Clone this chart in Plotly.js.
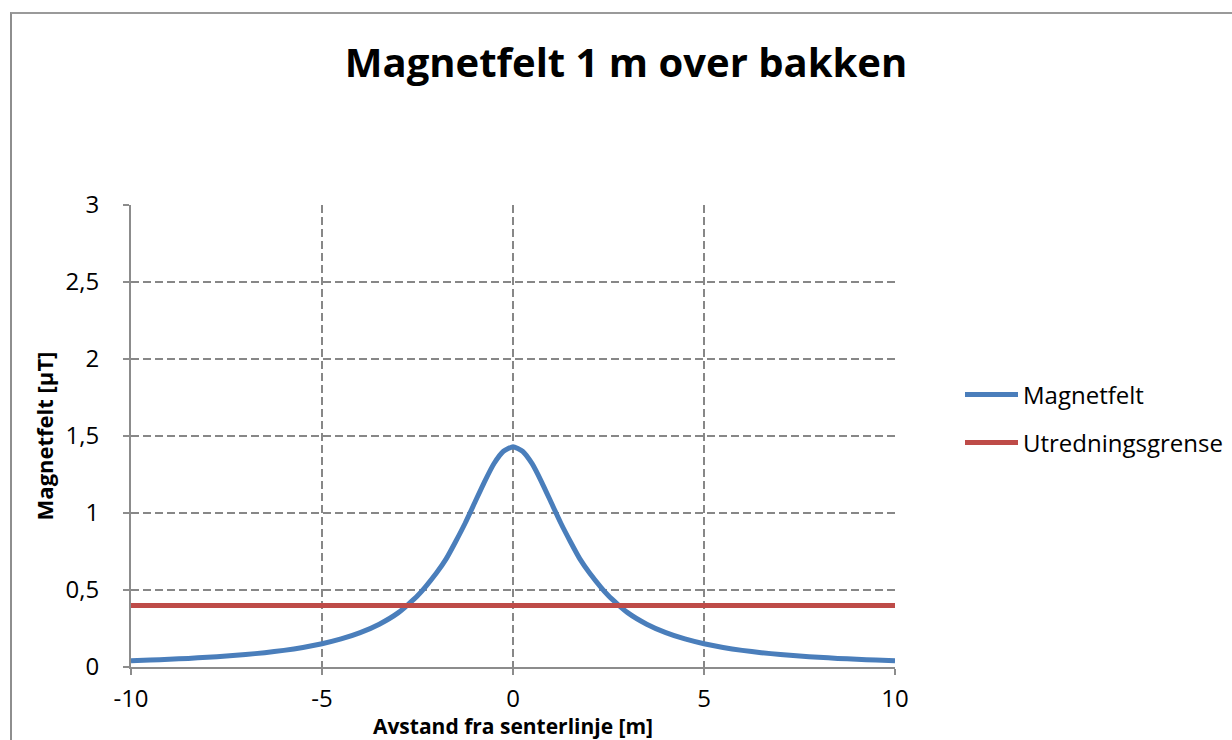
<!DOCTYPE html>
<html>
<head>
<meta charset="utf-8">
<script src="https://cdn.plot.ly/plotly-3.0.1.min.js"></script>
<style>
  html, body { margin: 0; padding: 0; background: #fff; overflow: hidden; }
  #chart { position: absolute; left: 0; top: 0; width: 1232px; height: 740px; }
  #frame { position: absolute; left: 10px; top: 12px; width: 1400px; height: 900px;
           border-left: 2px solid #8e8e8e; border-top: 2px solid #9a9a9a; pointer-events: none; }
</style>
</head>
<body>
<div id="chart"></div>
<div id="frame"></div>
<script>
// Distance from centre line [m]
const distance = [-10, -9.5, -9, -8.5, -8, -7.5, -7, -6.5, -6, -5.5, -5, -4.5, -4, -3.5, -3, -2.5, -2, -1.75, -1.5, -1.25, -1, -0.75, -0.5, -0.25, 0,
                  0.25, 0.5, 0.75, 1, 1.25, 1.5, 1.75, 2, 2.5, 3, 3.5, 4, 4.5, 5, 5.5, 6, 6.5, 7, 7.5, 8, 8.5, 9, 9.5, 10];
// Magnetic field [µT]
const magnetfelt = [0.041, 0.045, 0.050, 0.056, 0.063, 0.071, 0.081, 0.093, 0.108, 0.127, 0.151, 0.182, 0.223, 0.278, 0.353, 0.462, 0.612, 0.702, 0.815, 0.935, 1.068, 1.201, 1.320, 1.401, 1.430,
                    1.401, 1.320, 1.201, 1.068, 0.935, 0.815, 0.702, 0.612, 0.462, 0.353, 0.278, 0.223, 0.182, 0.151, 0.127, 0.108, 0.093, 0.081, 0.071, 0.063, 0.056, 0.050, 0.045, 0.041];
// Investigation limit
const grenseX = [-10, 10];
const grenseY = [0.4, 0.4];

const seriesNames = ["Magnetfelt", "Utredningsgrense"];
const titleText = "Magnetfelt 1 m over bakken";
const xTitle = "Avstand fra senterlinje [m]";
const yTitle = "Magnetfelt [µT]";

const FONT = "Open Sans, Noto Sans, sans-serif";
const GRID = "#878787";

const traces = [
  { x: distance, y: magnetfelt, type: "scatter", mode: "lines", name: seriesNames[0],
    line: { color: "#4a7ebb", width: 5, shape: "spline", smoothing: 0.5 }, legend: "legend" },
  { x: grenseX, y: grenseY, type: "scatter", mode: "lines", name: seriesNames[1],
    line: { color: "#be4b48", width: 5 }, legend: "legend2" }
];

const layout = {
  width: 1232, height: 740,
  margin: { l: 131, r: 337, t: 205, b: 73, pad: 0, autoexpand: false },
  paper_bgcolor: "#ffffff", plot_bgcolor: "#ffffff",
  separators: ",.",
  font: { family: FONT, size: 24, color: "#000" },
  title: { text: "<b>" + titleText + "</b>", font: { family: FONT, size: 40, color: "#000" },
           x: 626 / 1232, xref: "container", xanchor: "center", y: 1 - 63 / 740, yref: "container", yanchor: "middle" },
  xaxis: {
    range: [-10, 10], tickvals: [-10, -5, 0, 5, 10], ticktext: ["-10", "-5", "0", "5", "10"],
    showgrid: true, gridcolor: GRID, griddash: "8px,4px", gridwidth: 2,
    showline: true, linecolor: "#8c8c8c", linewidth: 2,
    ticks: "outside", ticklen: 6, tickwidth: 2, tickcolor: "#8c8c8c",
    tickfont: { family: FONT, size: 24, color: "#000" }, ticklabelstandoff: 3,
    zeroline: false, fixedrange: true, automargin: false,
    title: { text: "<b>" + xTitle + "</b>", font: { family: FONT, size: 21, color: "#000" }, standoff: 3 }
  },
  yaxis: {
    range: [0, 3], tickvals: [0, 0.5, 1, 1.5, 2, 2.5, 3], ticktext: ["0", "0,5", "1", "1,5", "2", "2,5", "3"],
    showgrid: true, gridcolor: GRID, griddash: "8px,4px", gridwidth: 2,
    showline: true, linecolor: "#8c8c8c", linewidth: 2,
    ticks: "outside", ticklen: 6, tickwidth: 2, tickcolor: "#8c8c8c",
    tickfont: { family: FONT, size: 24, color: "#000" }, ticklabelstandoff: 19,
    zeroline: false, fixedrange: true, automargin: false,
    title: { text: "<b>" + yTitle + "</b>", font: { family: FONT, size: 22, color: "#000" }, standoff: 6 }
  },
  showlegend: true,
  legend: { x: (960 - 131) / 764, xanchor: "left", y: (667 - 395) / 462, yanchor: "middle",
            font: { family: FONT, size: 24, color: "#000" }, bgcolor: "rgba(0,0,0,0)", itemwidth: 53 },
  legend2: { x: (960 - 131) / 764, xanchor: "left", y: (667 - 443) / 462, yanchor: "middle",
             font: { family: FONT, size: 24, color: "#000" }, bgcolor: "rgba(0,0,0,0)", itemwidth: 53 }
};

Plotly.newPlot("chart", traces, layout, { staticPlot: true, displayModeBar: false });
</script>
</body>
</html>
